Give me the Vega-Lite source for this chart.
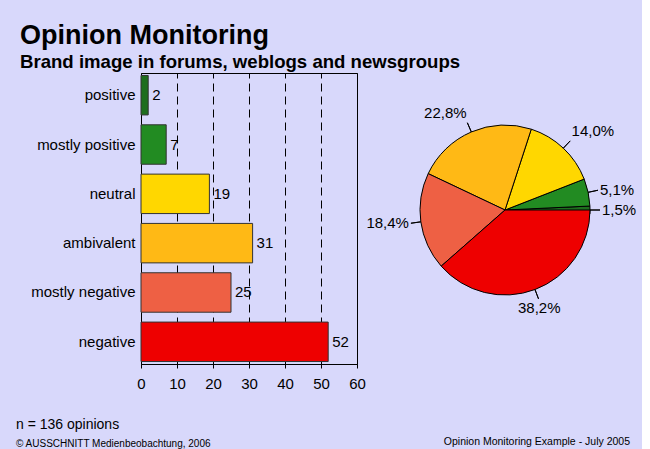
{
  "$schema": "https://vega.github.io/schema/vega-lite/v6.json",
  "background": "#D8D8FB",
  "padding": {"left": 16, "top": 21, "right": 5, "bottom": 0},
  "config": {"font": "Liberation Sans", "view": {"stroke": null}, "concat": {"spacing": 0}},
  "datasets": {
    "opinions": [
      {"category": "positive", "count": 2},
      {"category": "mostly positive", "count": 7},
      {"category": "neutral", "count": 19},
      {"category": "ambivalent", "count": 31},
      {"category": "mostly negative", "count": 25},
      {"category": "negative", "count": 52}
    ]
  },
  "title": {
    "text": "Opinion Monitoring",
    "subtitle": "Brand image in forums, weblogs and newsgroups",
    "anchor": "start",
    "frame": "group",
    "font": "Liberation Sans",
    "fontSize": 27,
    "fontWeight": "bold",
    "color": "black",
    "subtitleFont": "Liberation Sans",
    "subtitleFontSize": 18.6,
    "subtitleFontWeight": "bold",
    "subtitleColor": "black",
    "subtitlePadding": 3,
    "offset": 0,
    "dx": -121
  },
  "vconcat": [
    {
      "title": {"text": "Opinion Monitoring Example - July 2005", "orient": "bottom", "anchor": "start", "align": "right", "frame": "group", "fontSize": 10.5, "fontWeight": "normal", "color": "black", "offset": 0, "dy": -12, "dx": 489},
      "vconcat": [
        {
          "title": {"text": "© AUSSCHNITT Medienbeobachtung, 2006", "orient": "bottom", "anchor": "start", "frame": "group", "fontSize": 10, "fontWeight": "normal", "color": "black", "offset": 7, "dx": -125},
          "vconcat": [
            {
              "title": {"text": "n = 136 opinions", "orient": "bottom", "anchor": "start", "frame": "group", "fontSize": 14, "fontWeight": "normal", "color": "black", "offset": 26, "dx": -125},
              "spacing": 0,
              "hconcat": [
                {
                  "width": 216,
                  "height": 291,
                  "data": {"name": "opinions"},
                  "view": {"stroke": "black", "strokeWidth": 1},
                  "encoding": {
                    "y": {
                      "field": "category", "type": "nominal",
                      "sort": ["positive", "mostly positive", "neutral", "ambivalent", "mostly negative", "negative"],
                      "scale": {"paddingInner": 0.2, "paddingOuter": 0.05},
                      "axis": {"title": null, "ticks": false, "domain": false, "labelFontSize": 15, "labelColor": "black", "labelPadding": 6}
                    },
                    "x": {
                      "field": "count", "type": "quantitative",
                      "scale": {"domain": [0, 60]},
                      "axis": {"title": null, "values": [0, 10, 20, 30, 40, 50, 60], "grid": true, "gridColor": "black", "gridDash": [8, 5], "gridWidth": 1, "gridOpacity": 1, "domainColor": "black", "tickColor": "black", "tickSize": 4, "labelFontSize": 15, "labelColor": "black", "labelPadding": 8, "labelFlush": false}
                    }
                  },
                  "layer": [
                    {
                      "mark": {"type": "bar", "stroke": "#333333", "strokeWidth": 1},
                      "encoding": {
                        "color": {"field": "category", "type": "nominal", "legend": null,
                          "scale": {"domain": ["positive", "mostly positive", "neutral", "ambivalent", "mostly negative", "negative"], "range": ["#1E6E1E", "#228B22", "#FFD700", "#FFB915", "#EE6044", "#EE0000"]}}
                      }
                    },
                    {
                      "mark": {"type": "text", "align": "left", "baseline": "middle", "dx": 4, "fontSize": 15, "color": "black"},
                      "encoding": {"text": {"field": "count", "type": "quantitative"}}
                    }
                  ]
                },
                {
                  "width": 230,
                  "height": 274,
                  "data": {"name": "opinions"},
                  "transform": [
                    {"calculate": "indexof(['negative','mostly negative','ambivalent','neutral','mostly positive','positive'], datum.category)", "as": "slice"},
                    {"window": [{"op": "sum", "field": "count", "as": "end"}], "sort": [{"field": "slice"}], "frame": [null, 0]},
                    {"joinaggregate": [{"op": "sum", "field": "count", "as": "total"}]},
                    {"calculate": "datum.end - datum.count", "as": "start"},
                    {"calculate": "datum.end - datum.count / 2", "as": "mid"},
                    {"calculate": "replace(format(100 * datum.count / datum.total, '.1f'), '.', ',') + '%'", "as": "share"}
                  ],
                  "layer": [
                    {
                      "mark": {"type": "arc", "radius": 85, "stroke": "black", "strokeWidth": 1},
                      "encoding": {
                        "theta": {"field": "start", "type": "quantitative", "stack": null, "scale": {"type": "linear", "zero": true, "nice": false, "range": [1.5707963, 7.8539816]}},
                        "theta2": {"field": "end"},
                        "color": {"field": "category", "type": "nominal", "legend": null,
                          "scale": {"domain": ["positive", "mostly positive", "neutral", "ambivalent", "mostly negative", "negative"], "range": ["#1E6E1E", "#228B22", "#FFD700", "#FFB915", "#EE6044", "#EE0000"]}}
                      }
                    },
                    {
                      "mark": {"type": "arc", "radius": 95, "radius2": 85, "stroke": "black", "strokeWidth": 1, "fill": null},
                      "encoding": {
                        "theta": {"field": "mid", "type": "quantitative", "stack": null},
                        "theta2": {"field": "mid"}
                      }
                    },
                    {
                      "transform": [{"filter": "datum.category == 'ambivalent'"}],
                      "mark": {"type": "text", "radius": 97, "align": "right", "baseline": "bottom", "fontSize": 15, "color": "black"},
                      "encoding": {"theta": {"field": "mid", "type": "quantitative", "stack": null}, "text": {"field": "share"}}
                    },
                    {
                      "transform": [{"filter": "datum.category == 'neutral'"}],
                      "mark": {"type": "text", "radius": 97, "align": "left", "baseline": "bottom", "fontSize": 15, "color": "black"},
                      "encoding": {"theta": {"field": "mid", "type": "quantitative", "stack": null}, "text": {"field": "share"}}
                    },
                    {
                      "transform": [{"filter": "datum.category == 'positive' || datum.category == 'mostly positive'"}],
                      "mark": {"type": "text", "radius": 97, "align": "left", "baseline": "middle", "fontSize": 15, "color": "black"},
                      "encoding": {"theta": {"field": "mid", "type": "quantitative", "stack": null}, "text": {"field": "share"}}
                    },
                    {
                      "transform": [{"filter": "datum.category == 'mostly negative'"}],
                      "mark": {"type": "text", "radius": 97, "align": "right", "baseline": "middle", "fontSize": 15, "color": "black"},
                      "encoding": {"theta": {"field": "mid", "type": "quantitative", "stack": null}, "text": {"field": "share"}}
                    },
                    {
                      "transform": [{"filter": "datum.category == 'negative'"}],
                      "mark": {"type": "text", "radius": 97, "align": "center", "baseline": "top", "fontSize": 15, "color": "black"},
                      "encoding": {"theta": {"field": "mid", "type": "quantitative", "stack": null}, "text": {"field": "share"}}
                    }
                  ]
                }
              ]
            }
          ]
        }
      ]
    }
  ]
}
